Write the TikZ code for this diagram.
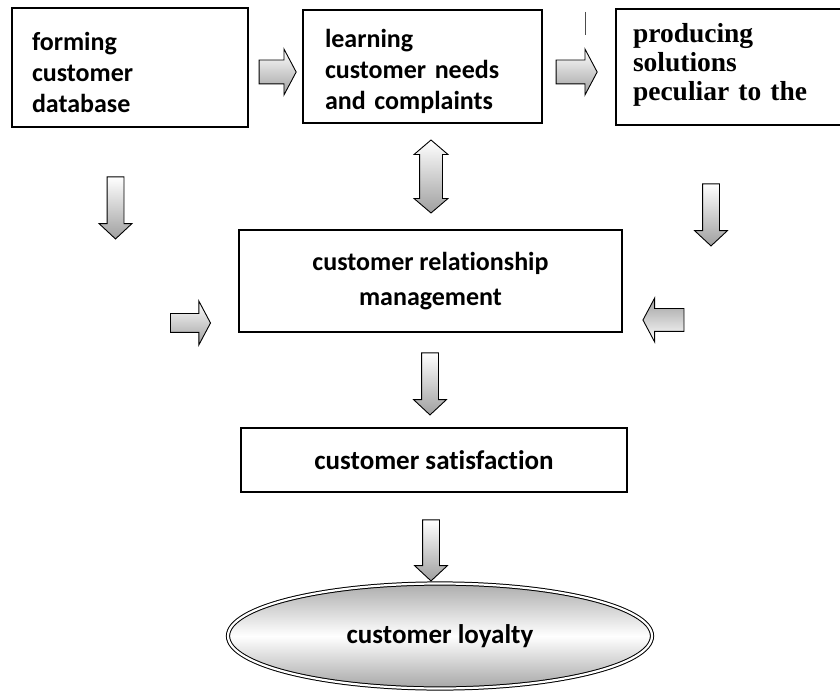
\documentclass[tikz,border=0pt]{standalone}
\usepackage{fontspec}
\setmainfont{Carlito}[Ligatures=NoCommon]
\newfontfamily\serifbold{Liberation Serif}
\usetikzlibrary{shapes.arrows,shapes.geometric}
\newcommand\topstrut{\rule{0pt}{28pt}}
\tikzset{
  stagebox/.style={draw, rectangle, line width=2.2pt, inner ysep=0pt, align=left,
    font=\bfseries\fontsize{26}{31}\selectfont},
  centerbox/.style={draw, rectangle, line width=2.2pt, inner sep=0pt, align=center,
    font=\bfseries\fontsize{26}{35}\selectfont},
  flowarrow/.style={single arrow, draw, line width=0.9pt, inner xsep=0pt,
    single arrow head indent=0pt, top color=white, bottom color=gray!75},
  sidearrow/.style={flowarrow, inner ysep=11.5pt, minimum width=45pt,
    single arrow head extend=11pt, single arrow tip angle=124},
  downarrow/.style={flowarrow, rotate=-90, inner ysep=8pt, minimum height=62pt,
    minimum width=32pt, single arrow head extend=8pt, single arrow tip angle=94}
}
\begin{document}
\begin{tikzpicture}[x=1pt,y=-1pt]
  \useasboundingbox (0,0) rectangle (840,692);
  \clip (0,0) rectangle (840,692);
  % top row
  \node[stagebox, text width=196pt, inner xsep=20pt, minimum height=119pt] (db) at (130,67.5)
    {\topstrut forming\\customer\\database};
  \node[stagebox, text width=195pt, inner xsep=22pt, minimum height=113pt] (needs) at (422.5,66.5)
    {\topstrut learning\\customer needs\\and complaints};
  \node[stagebox, text width=220pt, inner xsep=17pt, minimum height=116pt,
    font=\serifbold\bfseries\fontsize{27.5}{29}\selectfont] (solve) at (743,67)
    {producing\\solutions\\peculiar to the\vspace*{5pt}};
  % middle and bottom
  \node[centerbox, minimum width=383pt, minimum height=102pt] (crm) at (430.5,281)
    {customer relationship\\management};
  \node[centerbox, minimum width=386pt, minimum height=64pt,
    font=\bfseries\fontsize{27}{32}\selectfont] (sat) at (434,460)
    {customer satisfaction};
  \node[ellipse, draw, double, line width=1pt, double distance=2.2pt,
    minimum width=424pt, minimum height=105pt, inner sep=0pt,
    top color=gray!65, bottom color=gray!70, middle color=white,
    font=\bfseries\fontsize{27}{32}\selectfont] (loyal) at (440,636) {customer loyalty};
  % block arrows
  \node[sidearrow, minimum height=37pt] (dbneeds) at (274.5,72) {};
  \node[sidearrow, minimum height=41pt] (needssolve) at (573.5,72) {};
  \node[sidearrow, minimum height=40pt, inner ysep=9pt, minimum width=43pt,
    single arrow head extend=12.5pt] (intocrmleft) at (188,323) {};
  \node[sidearrow, minimum height=41pt, inner ysep=11pt, minimum width=43pt,
    single arrow head extend=10.5pt, rotate=180,
    top color=gray!75, bottom color=white] (intocrmright) at (666.5,320) {};
  \node[downarrow] (dbdown) at (115.5,204) {};
  \node[downarrow] (solvedown) at (711,211) {};
  \node[downarrow] (crmsat) at (430,380) {};
  \node[downarrow, minimum height=61pt] (satloyal) at (431,546.5) {};
  \node[double arrow, draw, rotate=90, line width=0.9pt, inner xsep=0pt, inner ysep=11pt,
    minimum height=73pt, minimum width=33pt, double arrow head extend=5.5pt,
    double arrow tip angle=99, double arrow head indent=0pt,
    top color=white, bottom color=gray!75] (needscrm) at (431,176.5) {};
  \draw[line width=0.8pt, black!70] (585,12) -- (585,35);
\end{tikzpicture}
\end{document}
